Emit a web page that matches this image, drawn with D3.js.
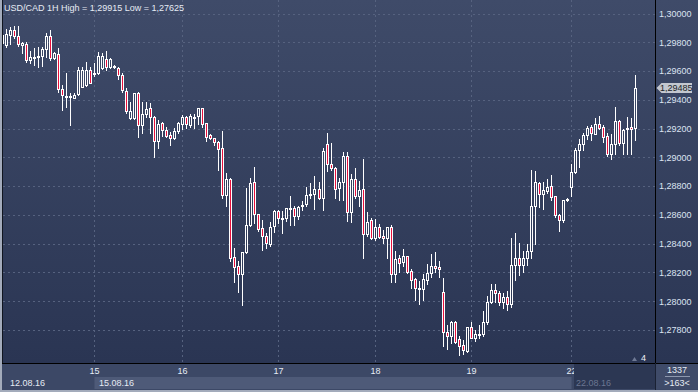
<!DOCTYPE html>
<html>
<head>
<meta charset="utf-8">
<script src="https://cdnjs.cloudflare.com/ajax/libs/d3/7.8.5/d3.min.js"></script>
<style>
  body { margin: 0; background: #2d3855; }
  svg { display: block; font-family: "Liberation Sans", Arial, sans-serif; }
</style>
</head>
<body>
<div id="chart"></div>
<script>
// USD/CAD 1H candles, oldest first
const opens = [1.29793,1.29781,1.29853,1.29883,1.29844,1.29784,1.29788,1.29679,1.29698,1.29702,
  1.29705,1.29751,1.29844,1.29693,1.29719,1.29473,1.29427,1.29427,1.29415,1.29441,
  1.29492,1.29503,1.29607,1.29577,1.29584,1.29619,1.29682,1.29631,1.29635,1.29624,
  1.29573,1.29464,1.29276,1.29271,1.29450,1.29223,1.29299,1.29341,1.29278,1.29116,
  1.29237,1.29190,1.29155,1.29132,1.29183,1.29231,1.29278,1.29224,1.29282,1.29287,
  1.29340,1.29236,1.29155,1.29132,1.29109,1.29062,1.28738,1.28847,1.28309,1.28242,
  1.28186,1.28339,1.28529,1.28826,1.28603,1.28506,1.28455,1.28397,1.28522,1.28629,
  1.28580,1.28580,1.28650,1.28650,1.28594,1.28668,1.28673,1.28742,1.28742,1.28777,
  1.28719,1.29090,1.28952,1.28928,1.28785,1.28826,1.29012,1.28618,1.28850,1.28734,
  1.28778,1.28465,1.28562,1.28437,1.28518,1.28453,1.28437,1.28514,1.28187,1.28298,
  1.28270,1.28314,1.28210,1.28155,1.28090,1.28085,1.28148,1.28199,1.28245,1.28236,
  1.28062,1.27784,1.27761,1.27858,1.27735,1.27696,1.27656,1.27821,1.27747,1.27770,
  1.27770,1.27853,1.27992,1.28078,1.28055,1.27997,1.28030,1.27980,1.28250,1.28300,
  1.28250,1.28300,1.28350,1.28664,1.28824,1.28743,1.28768,1.28801,1.28731,1.28599,
  1.28565,1.28708,1.28796,1.28896,1.29049,1.29091,1.29155,1.29213,1.29165,1.29230,
  1.29211,1.29148,1.29021,1.29091,1.29253,1.29098,1.29202,1.29209,1.29202];
const highs = [1.29890,1.29890,1.29904,1.29913,1.29915,1.29802,1.29804,1.29742,1.29758,1.29770,
  1.29770,1.29862,1.29885,1.29735,1.29758,1.29503,1.29584,1.29450,1.29445,1.29631,
  1.29631,1.29665,1.29631,1.29654,1.29735,1.29723,1.29742,1.29689,1.29642,1.29631,
  1.29584,1.29480,1.29387,1.29450,1.29457,1.29387,1.29387,1.29376,1.29288,1.29260,
  1.29248,1.29213,1.29173,1.29201,1.29248,1.29294,1.29289,1.29299,1.29303,1.29342,
  1.29342,1.29236,1.29162,1.29137,1.29113,1.29183,1.28888,1.28854,1.28367,1.28279,
  1.28339,1.28789,1.28858,1.28935,1.28608,1.28564,1.28476,1.28548,1.28634,1.28634,
  1.28627,1.28650,1.28731,1.28664,1.28661,1.28696,1.28796,1.28821,1.28870,1.28831,
  1.29067,1.29166,1.29098,1.28935,1.28859,1.29035,1.29040,1.28882,1.28928,1.28836,
  1.28989,1.28623,1.28576,1.28569,1.28537,1.28495,1.28518,1.28530,1.28349,1.28321,
  1.28363,1.28317,1.28224,1.28164,1.28141,1.28187,1.28256,1.28326,1.28344,1.28280,
  1.28164,1.27835,1.27863,1.27863,1.27758,1.27730,1.27823,1.27853,1.27800,1.27835,
  1.27932,1.28039,1.28117,1.28117,1.28071,1.28060,1.28070,1.28442,1.28472,1.28402,
  1.28350,1.28400,1.28912,1.28905,1.28831,1.28831,1.28847,1.28877,1.28731,1.28604,
  1.28704,1.28715,1.28952,1.29067,1.29128,1.29172,1.29220,1.29225,1.29276,1.29287,
  1.29225,1.29167,1.29160,1.29350,1.29260,1.29195,1.29281,1.29276,1.29572];
const lows = [1.29781,1.29770,1.29788,1.29828,1.29774,1.29723,1.29661,1.29658,1.29642,1.29631,
  1.29635,1.29696,1.29677,1.29684,1.29457,1.29329,1.29353,1.29225,1.29410,1.29431,
  1.29487,1.29496,1.29515,1.29568,1.29580,1.29612,1.29607,1.29619,1.29620,1.29543,
  1.29457,1.29311,1.29264,1.29264,1.29139,1.29167,1.29283,1.29167,1.29005,1.29063,
  1.29150,1.29139,1.29085,1.29127,1.29167,1.29197,1.29201,1.29211,1.29201,1.29229,
  1.29213,1.29116,1.29125,1.29085,1.28912,1.28715,1.28664,1.28281,1.28135,1.28066,
  1.27973,1.28332,1.28525,1.28541,1.28488,1.28356,1.28372,1.28386,1.28478,1.28546,
  1.28471,1.28557,1.28529,1.28529,1.28571,1.28634,1.28661,1.28719,1.28638,1.28710,
  1.28634,1.28905,1.28912,1.28720,1.28704,1.28704,1.28558,1.28553,1.28720,1.28664,
  1.28303,1.28456,1.28430,1.28426,1.28437,1.28402,1.28298,1.28136,1.28136,1.28205,
  1.28247,1.28194,1.28090,1.28009,1.27978,1.28009,1.28117,1.28168,1.28205,1.28171,
  1.27691,1.27668,1.27707,1.27707,1.27625,1.27631,1.27649,1.27742,1.27723,1.27742,
  1.27761,1.27839,1.27985,1.27997,1.27974,1.27950,1.27940,1.27960,1.28150,1.28180,
  1.28200,1.28250,1.28300,1.28400,1.28657,1.28641,1.28750,1.28704,1.28588,1.28490,
  1.28548,1.28700,1.28734,1.28889,1.28935,1.29051,1.29128,1.29121,1.29160,1.29197,
  1.29109,1.29012,1.28989,1.29021,1.29086,1.29021,1.29021,1.29021,1.29121];
const closes = [1.29851,1.29858,1.29883,1.29844,1.29788,1.29797,1.29679,1.29696,1.29698,1.29702,
  1.29751,1.29844,1.29689,1.29723,1.29473,1.29431,1.29427,1.29427,1.29431,1.29607,
  1.29607,1.29607,1.29519,1.29589,1.29705,1.29705,1.29626,1.29682,1.29626,1.29573,
  1.29468,1.29322,1.29322,1.29445,1.29223,1.29299,1.29334,1.29283,1.29116,1.29230,
  1.29190,1.29150,1.29132,1.29183,1.29236,1.29278,1.29229,1.29287,1.29282,1.29340,
  1.29231,1.29143,1.29132,1.29104,1.29055,1.28738,1.28847,1.28302,1.28240,1.28186,
  1.28339,1.28529,1.28819,1.28603,1.28499,1.28453,1.28402,1.28513,1.28627,1.28576,
  1.28580,1.28650,1.28650,1.28594,1.28652,1.28668,1.28738,1.28742,1.28777,1.28719,
  1.29044,1.28951,1.28928,1.28778,1.28826,1.29012,1.28618,1.28850,1.28734,1.28773,
  1.28465,1.28553,1.28437,1.28518,1.28449,1.28437,1.28514,1.28187,1.28294,1.28263,
  1.28314,1.28205,1.28148,1.28090,1.28090,1.28155,1.28196,1.28245,1.28229,1.28222,
  1.27784,1.27761,1.27858,1.27719,1.27691,1.27661,1.27819,1.27747,1.27770,1.27770,
  1.27853,1.27992,1.28078,1.28055,1.27997,1.28030,1.27980,1.28250,1.28300,1.28250,
  1.28300,1.28350,1.28664,1.28826,1.28743,1.28773,1.28794,1.28722,1.28599,1.28565,
  1.28704,1.28708,1.28896,1.29051,1.29091,1.29155,1.29202,1.29167,1.29230,1.29202,
  1.29139,1.29021,1.29091,1.29253,1.29098,1.29190,1.29202,1.29197,1.29485];

const priceTicks = [1.300, 1.298, 1.296, 1.294, 1.292, 1.290, 1.288, 1.286, 1.284, 1.282, 1.280, 1.278];
const dayTickIndex = [23, 45, 69, 93, 117, 142];
const dayTickLabels = ['15', '16', '17', '18', '19', '22'];
const dateLabels = ['12.08.16', '15.08.16', '22.08.16'];
const title = 'USD/CAD 1H High = 1,29915 Low = 1,27625';
const lastPrice = 1.29485;

const W = 698, H = 392;
const plot = {left: 3, right: 655, top: 0, bottom: 363};
const FS = '9px';

const svg = d3.select('#chart').append('svg')
  .attr('width', W).attr('height', H);

const defs = svg.append('defs');
const grad = defs.append('linearGradient')
  .attr('id', 'bg').attr('gradientUnits', 'userSpaceOnUse')
  .attr('x1', 0).attr('y1', 0).attr('x2', 0).attr('y2', plot.bottom);
grad.append('stop').attr('offset', 0).attr('stop-color', '#3f4b69');
grad.append('stop').attr('offset', 1).attr('stop-color', '#2a3553');

defs.append('clipPath').attr('id', 'plotClip')
  .append('rect')
  .attr('x', plot.left).attr('y', plot.top)
  .attr('width', plot.right - plot.left).attr('height', plot.bottom - plot.top);

const x = d3.scaleLinear().domain([0, 158]).range([2.5, 635.5]);
const y = d3.scaleLinear().domain([1.278, 1.300]).range([330, 13.5]);
const fmt = p => d3.format('.5f')(p).replace('.', ',');

// background, plot + price panel
svg.append('rect').attr('x', 0).attr('y', 0).attr('width', W).attr('height', plot.bottom)
  .attr('fill', 'url(#bg)');

// grid
const grid = svg.append('g').attr('shape-rendering', 'crispEdges')
  .attr('stroke', '#56627f').attr('stroke-dasharray', '2,3');
grid.selectAll('line.h').data(priceTicks).enter().append('line')
  .attr('class', 'h')
  .attr('x1', plot.left).attr('x2', plot.right)
  .attr('y1', d => Math.round(y(d)) + 0.5).attr('y2', d => Math.round(y(d)) + 0.5);
grid.selectAll('line.v').data(dayTickIndex).enter().append('line')
  .attr('class', 'v')
  .attr('y1', plot.top).attr('y2', plot.bottom)
  .attr('x1', d => Math.floor(x(d)) + 0.5).attr('x2', d => Math.floor(x(d)) + 0.5);

// candles
const candles = opens.map((o, i) => ({i, o, h: highs[i], l: lows[i], c: closes[i]}));
const cg = svg.append('g').attr('clip-path', 'url(#plotClip)').attr('shape-rendering', 'crispEdges');

cg.selectAll('line').data(candles).enter().append('line')
  .attr('x1', d => Math.floor(x(d.i)) + 0.5)
  .attr('x2', d => Math.floor(x(d.i)) + 0.5)
  .attr('y1', d => Math.round(y(d.h)))
  .attr('y2', d => Math.round(y(d.l)) + 1)
  .attr('stroke', '#ffffff');

cg.selectAll('rect').data(candles).enter().append('rect')
  .attr('x', d => Math.floor(x(d.i)) - 0.5)
  .attr('width', 2)
  .attr('y', d => Math.round(y(Math.max(d.o, d.c))) + 0.5)
  .attr('height', d => Math.max(1, Math.round(y(Math.min(d.o, d.c))) - Math.round(y(Math.max(d.o, d.c)))))
  .attr('fill', d => d.c < d.o ? '#e8103c' : 'url(#bg)')
  .attr('stroke', '#ffffff');

// axis separators
svg.append('line').attr('x1', plot.right + 0.5).attr('x2', plot.right + 0.5)
  .attr('y1', 0).attr('y2', plot.bottom).attr('stroke', '#000').attr('shape-rendering', 'crispEdges');
svg.append('line').attr('x1', plot.left - 0.5).attr('x2', plot.left - 0.5)
  .attr('y1', 0).attr('y2', plot.bottom).attr('stroke', '#10151f').attr('shape-rendering', 'crispEdges');

// price labels
svg.append('g').selectAll('text').data(priceTicks).enter().append('text')
  .attr('x', 659).attr('y', d => y(d) + 3.3)
  .attr('font-size', FS).attr('fill', '#dce4f2')
  .text(fmt);

// last price marker
const ly = Math.round(y(lastPrice));
svg.append('path')
  .attr('d', `M656.5,${ly} L661.5,${ly - 5} L692,${ly - 5} L692,${ly + 5} L661.5,${ly + 5} Z`)
  .attr('fill', '#c3c7cf');
svg.append('text').attr('x', 660).attr('y', ly + 3.3)
  .attr('font-size', FS).attr('fill', '#1b1e26').text(fmt(lastPrice));

// title
svg.append('text').attr('x', 4).attr('y', 11)
  .attr('font-size', FS).attr('fill', '#e6ebf4')
  .text(title);

// bar-count marker
svg.append('path').attr('d', 'M632,361 L634.5,357 L637,361 Z').attr('fill', '#6e7994');
svg.append('text').attr('x', 641).attr('y', 361)
  .attr('font-size', FS).attr('fill', '#eef2f8').text('4');

// time axis
svg.append('rect').attr('x', 0).attr('y', plot.bottom).attr('width', W).attr('height', H - plot.bottom)
  .attr('fill', '#3c4866');
svg.append('rect').attr('x', Math.floor(x(dayTickIndex[0])) + 0.5).attr('y', 377)
  .attr('width', Math.floor(x(dayTickIndex[5])) - Math.floor(x(dayTickIndex[0])))
  .attr('height', 12).attr('fill', '#4e5a78');

svg.append('g').selectAll('text').data(dayTickIndex).enter().append('text')
  .attr('x', d => Math.floor(x(d)) + 0.5).attr('y', 374)
  .attr('text-anchor', 'middle')
  .attr('font-size', FS).attr('fill', '#e6ebf4')
  .text((d, k) => dayTickLabels[k]);

svg.append('text').attr('x', 10).attr('y', 386).attr('font-size', FS).attr('fill', '#e6ebf4').text(dateLabels[0]);
svg.append('text').attr('x', 99).attr('y', 386).attr('font-size', FS).attr('fill', '#e6ebf4').text(dateLabels[1]);

// hovered-day box
svg.append('rect').attr('x', 574).attr('y', plot.bottom + 1).attr('width', plot.right - 574).attr('height', 25)
  .attr('fill', '#2c3753');
svg.append('text').attr('x', 576).attr('y', 386).attr('font-size', FS).attr('fill', '#6b7691').text(dateLabels[2]);

// bottom-right box
svg.append('rect').attr('x', plot.right + 1).attr('y', plot.bottom + 1).attr('width', W - plot.right - 1).attr('height', 25)
  .attr('fill', '#3f4b69');
svg.append('text').attr('x', 677).attr('y', 373).attr('text-anchor', 'middle')
  .attr('font-size', FS).attr('fill', '#e6ebf4').text('1337');
svg.append('line').attr('x1', 665).attr('x2', 690).attr('y1', 376.5).attr('y2', 376.5)
  .attr('stroke', '#8d98ae');
svg.append('text').attr('x', 677).attr('y', 386).attr('text-anchor', 'middle')
  .attr('font-size', FS).attr('fill', '#e6ebf4').text('>163<');

svg.append('line').attr('x1', 0).attr('x2', W).attr('y1', plot.bottom + 0.5).attr('y2', plot.bottom + 0.5)
  .attr('stroke', '#000').attr('shape-rendering', 'crispEdges');
svg.append('line').attr('x1', plot.right + 0.5).attr('x2', plot.right + 0.5)
  .attr('y1', plot.bottom).attr('y2', 390).attr('stroke', '#1a2133').attr('shape-rendering', 'crispEdges');

// window frame
svg.append('rect').attr('x', 0).attr('y', 0).attr('width', 2).attr('height', H).attr('fill', '#a3abbb');
svg.append('rect').attr('x', 0).attr('y', 390).attr('width', W).attr('height', 2).attr('fill', '#a3abbb');
</script>
</body>
</html>
